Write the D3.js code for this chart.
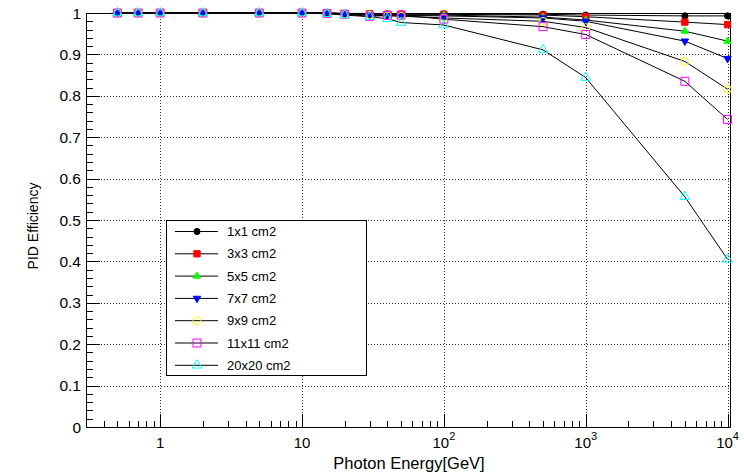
<!DOCTYPE html>
<html>
<head>
<meta charset="utf-8">
<script src="https://cdn.jsdelivr.net/npm/d3@7"></script>
<style>
  body { margin: 0; background: #fff; }
  text { font-family: "Liberation Sans", Arial, Helvetica, sans-serif; fill: #000; }
</style>
</head>
<body>
<div class="chart"></div>
<script>
// photon energies (GeV)
const energies = [0.5, 0.7, 1, 2, 5, 10, 15, 20, 30, 40, 50, 100, 500, 1000, 5000, 10000];

const eff1x1   = [1, 1, 1, 1, 1, 1, 1, 0.999, 0.999, 0.998, 0.998, 0.998, 0.997, 0.995, 0.993, 0.993];
const eff3x3   = [1, 1, 1, 1, 1, 1, 1, 0.999, 0.998, 0.997, 0.997, 0.997, 0.995, 0.991, 0.978, 0.972];
const eff5x5   = [1, 1, 1, 1, 1, 1, 1, 0.998, 0.997, 0.996, 0.995, 0.995, 0.990, 0.983, 0.956, 0.932];
const eff7x7   = [1, 1, 1, 1, 1, 1, 1, 0.998, 0.996, 0.995, 0.994, 0.993, 0.988, 0.980, 0.932, 0.890];
const eff9x9   = [1, 1, 1, 1, 1, 1, 0.999, 0.997, 0.995, 0.993, 0.992, 0.988, 0.980, 0.965, 0.883, 0.816];
const eff11x11 = [1, 1, 1, 1, 1, 1, 0.999, 0.997, 0.992, 0.994, 0.995, 0.985, 0.967, 0.948, 0.835, 0.743];
const eff20x20 = [1, 1, 1, 1, 1, 1, 0.998, 0.995, 0.991, 0.986, 0.977, 0.971, 0.911, 0.844, 0.556, 0.405];

const seriesNames = ['1x1 cm2', '3x3 cm2', '5x5 cm2', '7x7 cm2', '9x9 cm2', '11x11 cm2', '20x20 cm2'];
const seriesValues = [eff1x1, eff3x3, eff5x5, eff7x7, eff9x9, eff11x11, eff20x20];

const yTicks = [0, 0.1, 0.2, 0.3, 0.4, 0.5, 0.6, 0.7, 0.8, 0.9, 1];
const xTicks = [1, 10, 100, 1000, 10000];

// marker styles (ROOT-ish)
const markers = [
    { type: d3.symbolCircle,   size: 30, fill: '#000',  stroke: '#000',    rot: 0 },
    { type: d3.symbolSquare,   size: 40, fill: '#f00',  stroke: '#f00',    rot: 0 },
    { type: d3.symbolTriangle, size: 22, fill: '#0f0',  stroke: '#0f0',    rot: 0 },
    { type: d3.symbolTriangle, size: 24, fill: '#00f',  stroke: '#00f',    rot: 180 },
    { type: d3.symbolCircle,   size: 48, fill: 'none',  stroke: '#ff0',    rot: 0 },
    { type: d3.symbolSquare,   size: 64, fill: 'none',  stroke: '#f0f',    rot: 0 },
    { type: d3.symbolTriangle, size: 40, fill: 'none',  stroke: '#0ff',    rot: 0 }
];

const W = 744, H = 475;
const pLeft = 86, pRight = 730, pTop = 13, pBottom = 427;

const svg = d3.select('.chart').append('svg')
    .attr('width', W)
    .attr('height', H);

const xScale = d3.scaleLog().domain([0.3, 1.04e4]).range([pLeft, pRight]);
const yScale = d3.scaleLinear().domain([0, 1]).range([pBottom, pTop]);

// grid
svg.append('g').selectAll('line')
    .data(xTicks)
    .enter().append('line')
    .attr('x1', d => Math.round(xScale(d)) + 0.5).attr('x2', d => Math.round(xScale(d)) + 0.5)
    .attr('y1', pTop).attr('y2', pBottom)
    .attr('stroke', '#000').attr('stroke-width', 1)
    .attr('stroke-dasharray', '1,2').attr('opacity', 0.8);

svg.append('g').selectAll('line')
    .data(yTicks)
    .enter().append('line')
    .attr('x1', pLeft).attr('x2', pRight)
    .attr('y1', d => Math.round(yScale(d)) + 0.5).attr('y2', d => Math.round(yScale(d)) + 0.5)
    .attr('stroke', '#000').attr('stroke-width', 1)
    .attr('stroke-dasharray', '1,2').attr('opacity', 0.8);

// y axis minor + major ticks
const yMinor = d3.range(0, 51).map(i => i * 0.02);
svg.append('g').selectAll('line')
    .data(yMinor)
    .enter().append('line')
    .attr('x1', pLeft)
    .attr('x2', (d, i) => pLeft + (i % 5 === 0 ? 14 : 7))
    .attr('y1', d => Math.round(yScale(d)) + 0.5)
    .attr('y2', d => Math.round(yScale(d)) + 0.5)
    .attr('stroke', '#000');

svg.append('g').selectAll('text')
    .data(yTicks)
    .enter().append('text')
    .attr('x', pLeft - 5)
    .attr('y', d => yScale(d) + 5.5)
    .attr('text-anchor', 'end')
    .attr('font-size', 15.5)
    .text(d => d3.format('~g')(d));

// x axis minor + major ticks
const xMinor = [];
for (let e = -1; e <= 3; e++) {
    for (let m = 1; m <= 9; m++) {
        const v = m * Math.pow(10, e);
        if (v >= 0.3 && v <= 1.04e4) xMinor.push(v);
    }
}
xMinor.push(10000);
svg.append('g').selectAll('line')
    .data(xMinor)
    .enter().append('line')
    .attr('x1', d => Math.round(xScale(d)) + 0.5)
    .attr('x2', d => Math.round(xScale(d)) + 0.5)
    .attr('y1', pBottom)
    .attr('y2', d => pBottom - (xTicks.includes(d) ? 13 : 6))
    .attr('stroke', '#000');

const xLabels = svg.append('g').selectAll('text')
    .data(xTicks)
    .enter().append('text')
    .attr('x', d => xScale(d))
    .attr('y', pBottom + 21)
    .attr('text-anchor', 'middle')
    .attr('font-size', 15);
xLabels.each(function (d) {
    const t = d3.select(this);
    const e = Math.round(Math.log10(d));
    if (e <= 1) {
        t.text(d);
    } else {
        t.append('tspan').text('10');
        t.append('tspan').attr('dy', -8).attr('font-size', 11).text(e);
    }
});

// frame
svg.append('rect')
    .attr('x', pLeft + 0.5).attr('y', pTop + 0.5)
    .attr('width', pRight - pLeft).attr('height', pBottom - pTop)
    .attr('fill', 'none').attr('stroke', '#000');

// axis titles
svg.append('text')
    .attr('x', 409)
    .attr('y', 469)
    .attr('text-anchor', 'middle')
    .attr('font-size', 16.5)
    .text('Photon Energy[GeV]');

svg.append('text')
    .attr('transform', 'translate(38,226) rotate(-90)')
    .attr('text-anchor', 'middle')
    .attr('font-size', 14)
    .text('PID Efficiency');

// lines
const line = d3.line()
    .x((d, i) => xScale(energies[i]))
    .y(d => yScale(d));

svg.append('g').selectAll('path')
    .data(seriesValues)
    .enter().append('path')
    .attr('d', line)
    .attr('fill', 'none')
    .attr('stroke', '#000')
    .attr('stroke-width', 1);

// markers
const sym = d3.symbol();
seriesValues.forEach((vals, s) => {
    const m = markers[s];
    svg.append('g').selectAll('path')
        .data(vals)
        .enter().append('path')
        .attr('d', sym.type(m.type).size(m.size)())
        .attr('transform', (d, i) => 'translate(' + xScale(energies[i]) + ',' + yScale(d) + ') rotate(' + m.rot + ')')
        .attr('fill', m.fill)
        .attr('stroke', m.stroke)
        .attr('stroke-width', 1);
});

// legend
const lg = svg.append('g').attr('transform', 'translate(166,220)');
lg.append('rect')
    .attr('x', 0.5).attr('y', 0.5)
    .attr('width', 200).attr('height', 155)
    .attr('fill', '#fff').attr('stroke', '#000');

const entries = lg.selectAll('g.entry')
    .data(seriesNames)
    .enter().append('g')
    .attr('class', 'entry')
    .attr('transform', (d, i) => 'translate(0,' + (11 + i * 22.3) + ')');

entries.append('line')
    .attr('x1', 9).attr('x2', 52)
    .attr('y1', 0.5).attr('y2', 0.5)
    .attr('stroke', '#000');

entries.append('path')
    .attr('d', (d, i) => sym.type(markers[i].type).size(markers[i].size)())
    .attr('transform', (d, i) => 'translate(31,0.5) rotate(' + markers[i].rot + ')')
    .attr('fill', (d, i) => markers[i].fill)
    .attr('stroke', (d, i) => markers[i].stroke);

entries.append('text')
    .attr('x', 61)
    .attr('y', 5)
    .attr('font-size', 13)
    .text(d => d);
</script>
</body>
</html>
